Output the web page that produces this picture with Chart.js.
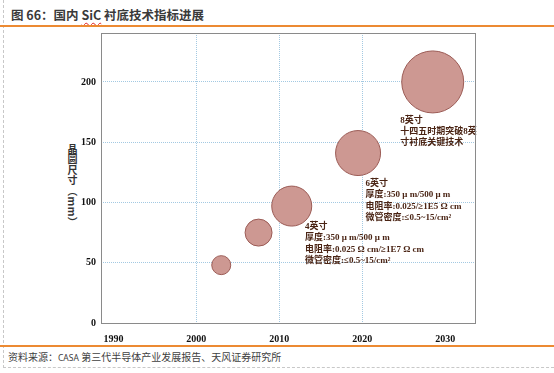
<!DOCTYPE html>
<html>
<head>
<meta charset="utf-8">
<script src="https://cdn.jsdelivr.net/npm/chart.js@4/dist/chart.umd.min.js"></script>
<style>
  html, body { margin: 0; padding: 0; background: #fff; }
  #page { position: relative; width: 554px; height: 373px; overflow: hidden;
          font-family: 'Noto Sans CJK SC', 'Noto Sans', sans-serif; }
  #frame { position: absolute; left: 3px; top: 0; width: 560px; height: 367px;
           border-left: 1px dashed #c8c8c8; border-bottom: 1px dashed #c8c8c8; }
  #title { position: absolute; left: 11px; top: 5px; font-size: 12.5px; font-weight: bold; color: #3a3a3a; }
  #title .sic { text-decoration: underline wavy #e02020; text-decoration-thickness: 1px; text-underline-offset: 2px; }
  .orange { position: absolute; left: 0; width: 554px; height: 1.5px; background: #ec8a32; }
  #source { position: absolute; left: 8px; top: 349px; font-size: 10px; color: #404040; }
  #source .en { font-size: 8.5px; font-family: 'Noto Sans', sans-serif; }
  #ytitle { position: absolute; left: 67px; top: 144px; writing-mode: vertical-rl;
            font-size: 10px; font-weight: bold; color: #333; line-height: 1; letter-spacing: 0.5px; }
  #wrap { position: absolute; left: 0; top: 0; width: 554px; height: 373px; }
</style>
</head>
<body>
<div id="page">
  <div id="frame"></div>
  <div id="title">图 66：国内 <span class="sic">SiC</span> 衬底技术指标进展</div>
  <div class="orange" style="top:25px"></div>
  <div class="orange" style="top:345px"></div>
  <div id="source">资料来源：<span class="en">CASA</span> 第三代半导体产业发展报告、天风证券研究所</div>
  <div id="ytitle">晶圆尺寸（mm）</div>
  <div id="wrap"><canvas id="chart"></canvas></div>
</div>
<script>
// bubble data
const years = [2003, 2007.5, 2011.5, 2019.5, 2028.5];
const waferMm = [48, 75, 97, 141, 200];
const bubbleR = [9.5, 13.5, 20, 22.5, 31];

// axis ticks
const xTicks = [1990, 2000, 2010, 2020, 2030];
const xGridYears = [2000, 2010, 2020];
const yTicks = [0, 50, 100, 150, 200];

// text notes next to the bubbles (top-left anchor in data coords)
const noteX = [2013.1, 2020.4, 2024.6];
const noteY = [80, 115.5, 168];
const noteLines = [
    ['4英寸', '厚度:350 μ m/500 μ m', '电阻率:0.025 Ω cm/≥1E7 Ω cm', '微管密度:≤0.5~15/cm²'],
    ['6英寸', '厚度:350 μ m/500 μ m', '电阻率:0.025/≥1E5 Ω cm', '微管密度:≤0.5~15/cm²'],
    ['8英寸', '十四五时期突破8英', '寸衬底关键技术']
];

const tickFont = { family: "'Liberation Serif', 'DejaVu Serif', serif", size: 10, weight: 'bold' };
const gridBlue = '#a3c9e2';

// box round the plot area
const boxPlugin = {
    id: 'box',
    afterDraw(chart) {
        const a = chart.chartArea, ctx = chart.ctx;
        ctx.save();
        ctx.strokeStyle = '#8a8a8a';
        ctx.lineWidth = 1;
        ctx.strokeRect(Math.round(a.left) + 0.5, Math.round(a.top) + 0.5,
            Math.round(a.right - a.left), Math.round(a.bottom - a.top));
        ctx.restore();
    }
};

// notes
const notesPlugin = {
    id: 'notes',
    afterDatasetsDraw(chart) {
        const ctx = chart.ctx, xs = chart.scales.x, ys = chart.scales.y;
        ctx.save();
        ctx.fillStyle = '#4a2414';
        ctx.font = "bold 9px 'Liberation Serif', 'Noto Sans CJK SC', serif";
        ctx.textAlign = 'left';
        ctx.textBaseline = 'middle';
        noteLines.forEach((lines, i) => {
            const px = xs.getPixelForValue(noteX[i]);
            const py = ys.getPixelForValue(noteY[i]);
            lines.forEach((t, j) => ctx.fillText(t, px, py + j * 11.3));
        });
        ctx.restore();
    }
};

new Chart(document.getElementById('chart'), {
    type: 'bubble',
    data: {
        datasets: [{
            data: years.map((y, i) => ({ x: y, y: waferMm[i], r: bubbleR[i] })),
            backgroundColor: '#cd9892',
            borderColor: '#9b5b55',
            borderWidth: 1,
            hoverRadius: 0
        }]
    },
    options: {
        responsive: true,
        maintainAspectRatio: false,
        animation: false,
        layout: { padding: { left: 0, top: 33, right: 79, bottom: 0 } },
        plugins: { legend: { display: false }, tooltip: { enabled: false } },
        scales: {
            x: {
                type: 'linear',
                min: 1988.5,
                max: 2033.6,
                afterFit(scale) { scale.height = 50; },
                afterBuildTicks(scale) { scale.ticks = xTicks.map(v => ({ value: v })); },
                ticks: { font: tickFont, color: '#111', padding: 10, maxRotation: 0,
                         callback: v => String(v) },
                grid: {
                    drawTicks: false,
                    color: c => xGridYears.includes(c.tick && c.tick.value) ? gridBlue : 'rgba(0,0,0,0)',
                    lineWidth: 1,
                    borderDash: [1, 1]
                },
                border: { display: false, dash: [1, 1] }
            },
            y: {
                min: 0,
                max: 240.6,
                afterFit(scale) { scale.width = 101; },
                afterBuildTicks(scale) { scale.ticks = yTicks.map(v => ({ value: v })); },
                ticks: { font: tickFont, color: '#111', padding: 5 },
                grid: {
                    drawTicks: false,
                    color: c => (c.tick && c.tick.value > 0) ? gridBlue : 'rgba(0,0,0,0)',
                    lineWidth: 1,
                    borderDash: [1, 1]
                },
                border: { display: false, dash: [1, 1] }
            }
        }
    },
    plugins: [boxPlugin, notesPlugin]
});
</script>
</body>
</html>
